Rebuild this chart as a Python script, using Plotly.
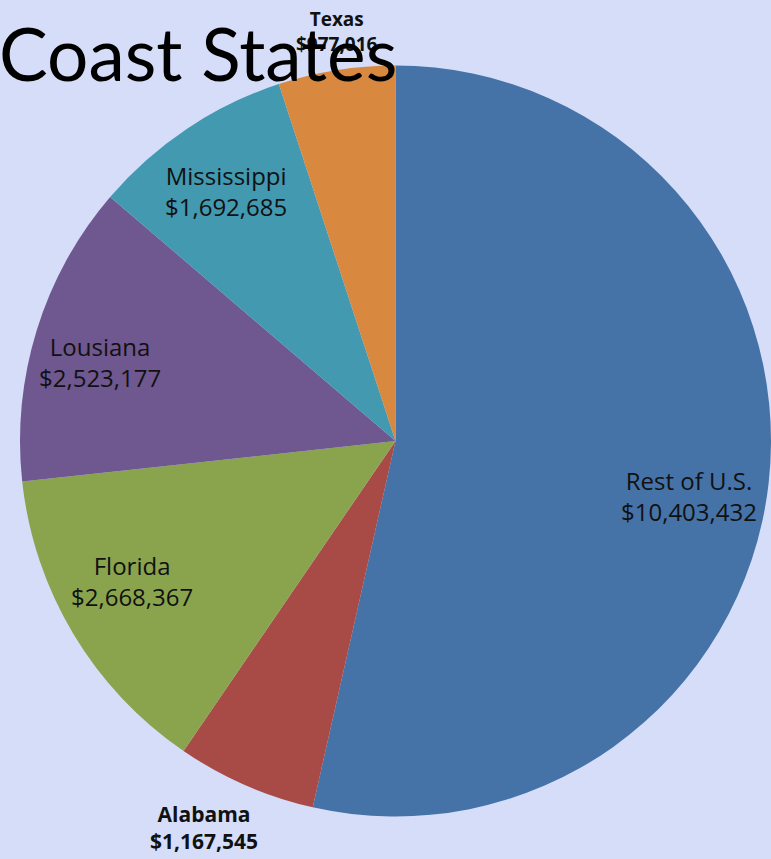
import plotly.graph_objects as go

W, H = 771, 859

# ---- data ----
states = ["Rest of U.S.", "Alabama", "Florida", "Lousiana", "Mississippi", "Texas"]
amounts = [10403432, 1167545, 2668367, 2523177, 1692685, 977016]
colors = ["#4673a7", "#a84a46", "#8aa44e", "#6f5790", "#4299b0", "#d98840"]
title_text = "Coast States"

# label placement (pixel centres) and style
label_px = [(689, 496), (204, 827), (132, 581), (100, 362), (226, 191), (337, 31)]
label_bold = [False, True, False, False, False, True]
label_size = [24, 21, 24, 24, 24, 19]

BG = "#d5ddf9"

fig = go.Figure(go.Pie(
    labels=states,
    values=amounts,
    sort=False,
    direction="clockwise",
    rotation=0,
    marker=dict(colors=colors, line=dict(width=0)),
    textinfo="none",
    hoverinfo="label+value",
    showlegend=False,
    domain=dict(x=[20 / W, 1.0], y=[1 - 819 / H, 1 - 63 / H]),
))

def px(x, y):
    return x / W, 1 - y / H

for name, val, (lx, ly), b, s in zip(states, amounts, label_px, label_bold, label_size):
    txt = f"{name}<br>${val:,}"
    if b:
        txt = f"<b>{txt}</b>"
    ax, ay = px(lx, ly)
    fig.add_annotation(x=ax, y=ay, xref="paper", yref="paper", text=txt,
                       showarrow=False, xanchor="center", yanchor="middle",
                       font=dict(family="Open Sans", size=s, color="#111111"),
                       align="center")

tx, ty = px(-3, 53)
fig.add_annotation(x=tx, y=ty, xref="paper", yref="paper", text=title_text,
                   showarrow=False, xanchor="left", yanchor="middle",
                   font=dict(family="Lato", size=73, color="#000000"))

fig.update_layout(
    width=W, height=H,
    margin=dict(l=0, r=0, t=0, b=0),
    paper_bgcolor=BG,
    plot_bgcolor=BG,
)

fig.write_html(
    "out.html",
    config={"displayModeBar": False},
    post_script=f"document.body.style.margin='0';document.body.style.background='{BG}';document.body.style.overflow='hidden';",
)
